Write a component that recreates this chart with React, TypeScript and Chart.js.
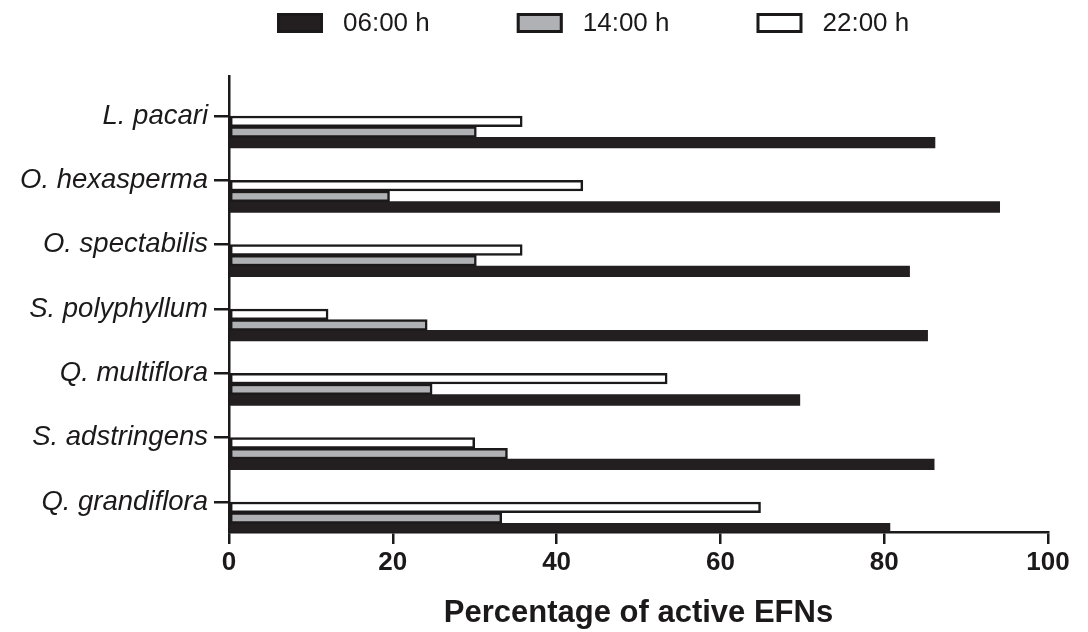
import React, { useEffect, useRef } from "react";
import { Chart, registerables } from "chart.js";

Chart.register(...registerables);

// ---- data ----
const species = [
  "L. pacari",
  "O. hexasperma",
  "O. spectabilis",
  "S. polyphyllum",
  "Q. multiflora",
  "S. adstringens",
  "Q. grandiflora",
];
const seriesLabels = ["06:00 h", "14:00 h", "22:00 h"];
const values0600 = [86.2, 94.1, 83.1, 85.3, 69.7, 86.1, 80.7];
const values1400 = [30.2, 19.6, 30.2, 24.2, 24.8, 34.0, 33.3];
const values2200 = [35.8, 43.2, 35.8, 12.1, 53.5, 30.0, 64.9];
const xTickValues = [0, 20, 40, 60, 80, 100];
const xTitle = "Percentage of active EFNs";

// ---- style ----
const FONT = "'Liberation Sans', Arial, Helvetica, sans-serif";
const INK = "#1b1919";
const BLACK_FILL = "#231f20";
const GRAY_FILL = "#b0b1b5";
const WHITE_FILL = "#ffffff";
const LABEL_SHIFT = 0.2487; // category label sits at top edge of its bar group

const toPoints = (vals: number[]) => vals.map((v, i) => ({ x: v, y: i }));

const legendPlugin = {
  id: "manualLegend",
  afterDraw(chart: any) {
    const ctx: CanvasRenderingContext2D = chart.ctx;
    const order = [2, 1, 0]; // datasets are stored 22h,14h,06h; legend shows 06h,14h,22h
    ctx.save();
    ctx.font = `26px ${FONT}`;
    ctx.textBaseline = "middle";
    ctx.textAlign = "left";
    let x = 277;
    const cy = 23;
    const bw = 46;
    const bh = 20;
    order.forEach((di) => {
      const ds = chart.data.datasets[di];
      ctx.fillStyle = ds.backgroundColor;
      ctx.fillRect(x, cy - bh / 2, bw, bh);
      ctx.lineWidth = 3;
      ctx.strokeStyle = INK;
      ctx.strokeRect(x + 1.5, cy - bh / 2 + 1.5, bw - 3, bh - 3);
      ctx.fillStyle = INK;
      const tx = x + bw + 20;
      ctx.fillText(ds.label, tx, cy + 1);
      const tw = ctx.measureText(ds.label).width;
      x = tx + tw + 87;
    });
    ctx.restore();
  },
};

export default function App() {
  const ref = useRef<HTMLCanvasElement | null>(null);

  useEffect(() => {
    if (!ref.current) return;
    Chart.defaults.font.family = FONT;
    const common = {
      barThickness: 10.67,
      borderColor: INK,
      borderSkipped: false as const,
    };
    const chart = new Chart(ref.current, {
      type: "bar",
      data: {
        datasets: [
          {
            ...common,
            label: seriesLabels[2],
            data: toPoints(values2200),
            backgroundColor: WHITE_FILL,
            borderWidth: 2.5,
          },
          {
            ...common,
            label: seriesLabels[1],
            data: toPoints(values1400),
            backgroundColor: GRAY_FILL,
            borderWidth: 2.5,
          },
          {
            ...common,
            label: seriesLabels[0],
            data: toPoints(values0600),
            backgroundColor: BLACK_FILL,
            borderWidth: 0,
          },
        ],
      },
      options: {
        indexAxis: "y",
        responsive: false,
        animation: false,
        layout: { padding: { top: 76, right: 40, left: 0, bottom: 0 } },
        plugins: {
          legend: { display: false },
          tooltip: { enabled: false },
        },
        scales: {
          x: {
            type: "linear",
            min: 0,
            max: 100,
            afterBuildTicks: (s: any) => {
              s.ticks = xTickValues.map((v) => ({ value: v }));
            },
            afterFit: (s: any) => {
              s.height = 100;
            },
            ticks: {
              font: { size: 26, weight: "bold" },
              color: INK,
              padding: 3,
              autoSkip: false,
              maxRotation: 0,
            },
            grid: {
              drawOnChartArea: false,
              drawTicks: true,
              tickLength: 12,
              color: INK,
              lineWidth: 2.5,
            },
            border: { display: true, color: INK, width: 2.5 },
            title: {
              display: true,
              text: xTitle,
              font: { size: 31, weight: "bold" },
              color: INK,
              padding: { top: 0, bottom: 0 },
            },
          },
          y: {
            type: "linear",
            offset: false,
            min: -0.8705,
            max: 6.218,
            reverse: true,
            afterBuildTicks: (s: any) => {
              s.ticks = species.map((_, i) => ({ value: i - LABEL_SHIFT }));
            },
            afterFit: (s: any) => {
              s.width = 229;
            },
            ticks: {
              autoSkip: false,
              callback: (v: any) => species[Math.round(Number(v) + LABEL_SHIFT)],
              font: { size: 27.5, style: "italic" },
              color: INK,
              padding: 6,
            },
            grid: {
              offset: false,
              drawOnChartArea: false,
              drawTicks: true,
              tickLength: 15,
              color: INK,
              lineWidth: 2.5,
            },
            border: { display: true, color: INK, width: 2.5 },
          },
        },
      },
      plugins: [legendPlugin],
    } as any);
    return () => chart.destroy();
  }, []);

  return (
    <div style={{ position: "absolute", left: 0, top: 0, width: 1088, height: 632, background: "#fff" }}>
      <canvas ref={ref} width={1088} height={632} style={{ display: "block" }} />
    </div>
  );
}
